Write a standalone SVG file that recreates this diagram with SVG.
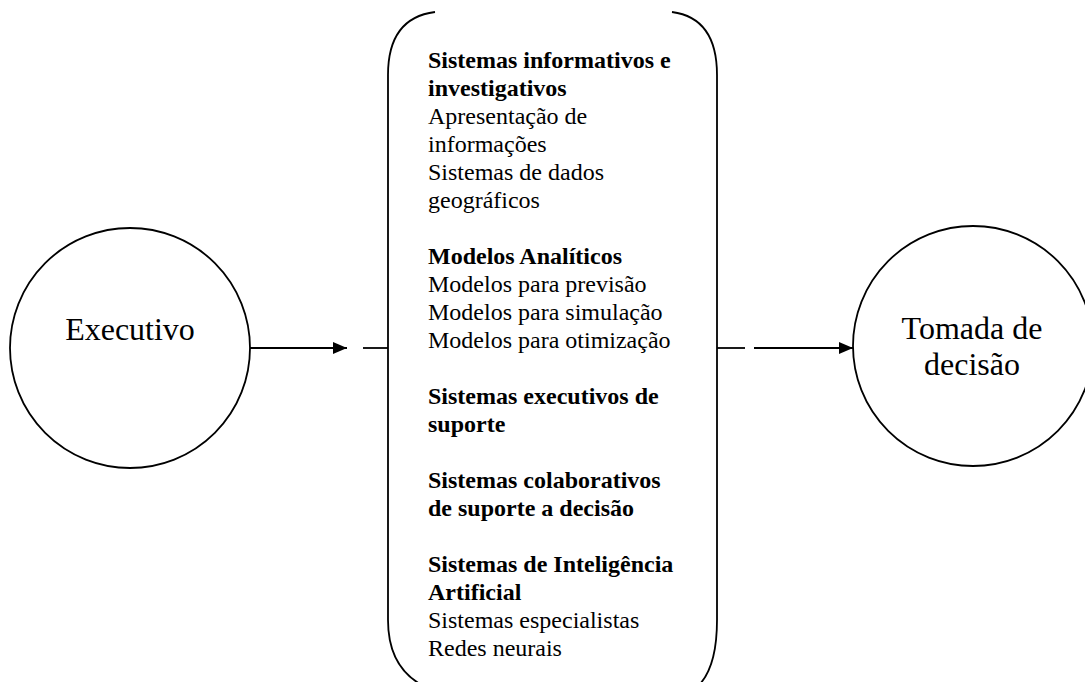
<svg xmlns="http://www.w3.org/2000/svg" width="1085" height="682" viewBox="0 0 1085 682">
<defs>
<marker id="arr" viewBox="0 0 14 12" refX="14" refY="6" markerWidth="14" markerHeight="12" markerUnits="userSpaceOnUse" orient="auto">
<path d="M0,0 L14,6 L0,12 z" fill="#000"/>
</marker>
</defs>
<style>
.shape{fill:none;stroke:#000;stroke-width:1.8}
.t{font-family:"Liberation Serif","Times New Roman",serif;fill:#000}
.big{font-size:32px}
.body{font-size:24px}
.b{font-weight:bold}
.line{fill:none;stroke:#000;stroke-width:1.8}
</style>
<rect width="1085" height="682" fill="#fff"/>
<g id="executivo">
<circle class="shape" cx="130" cy="348" r="120"/>
<text class="t big" x="130" y="340" text-anchor="middle">Executivo</text>
</g>
<g id="sistemas">
<path class="shape" d="M435,12 Q388,18 388,75 L388,620 Q388,665 420,684"/>
<path class="shape" d="M672,12 Q717,18 717,75 L717,620 Q717,665 700,684"/>
<text class="t body" x="428">
<tspan x="428" y="68" class="b">Sistemas informativos e</tspan>
<tspan x="428" y="96" class="b">investigativos</tspan>
<tspan x="428" y="124">Apresentação de</tspan>
<tspan x="428" y="152">informações</tspan>
<tspan x="428" y="180">Sistemas de dados</tspan>
<tspan x="428" y="208">geográficos</tspan>
<tspan x="428" y="264" class="b">Modelos Analíticos</tspan>
<tspan x="428" y="292">Modelos para previsão</tspan>
<tspan x="428" y="320">Modelos para simulação</tspan>
<tspan x="428" y="348">Modelos para otimização</tspan>
<tspan x="428" y="404" class="b">Sistemas executivos de</tspan>
<tspan x="428" y="432" class="b">suporte</tspan>
<tspan x="428" y="488" class="b">Sistemas colaborativos</tspan>
<tspan x="428" y="516" class="b">de suporte a decisão</tspan>
<tspan x="428" y="572" class="b">Sistemas de Inteligência</tspan>
<tspan x="428" y="600" class="b">Artificial</tspan>
<tspan x="428" y="628">Sistemas especialistas</tspan>
<tspan x="428" y="656">Redes neurais</tspan>
</text>
</g>
<g id="tomada">
<circle class="shape" cx="973" cy="346" r="120"/>
<text class="t big" x="972" y="339" text-anchor="middle">Tomada de</text>
<text class="t big" x="972" y="375" text-anchor="middle">decisão</text>
</g>
<g id="connectors">
<line class="line" x1="250" y1="348" x2="347" y2="348" marker-end="url(#arr)"/>
<line class="line" x1="363" y1="348" x2="388" y2="348"/>
<line class="line" x1="717" y1="348" x2="745" y2="348"/>
<line class="line" x1="754" y1="348" x2="853" y2="348" marker-end="url(#arr)"/>
</g>
</svg>
